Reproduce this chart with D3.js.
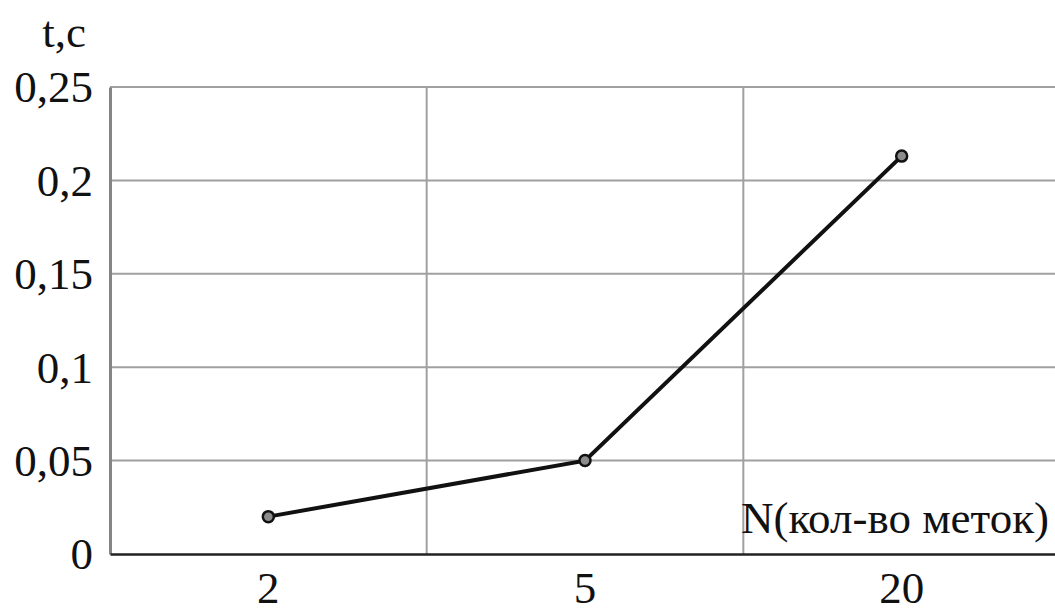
<!DOCTYPE html>
<html><head><meta charset="utf-8">
<script src="https://cdn.jsdelivr.net/npm/d3@7"></script>
<style>body{margin:0;background:#fff}svg{display:block}text{font-family:"Liberation Serif","Times New Roman",serif;fill:#111}</style>
</head><body><svg id="c" width="1055" height="613"></svg>
<script>
const categories = ["2", "5", "20"];
const values = [0.02, 0.05, 0.213];
const yTicks = [0, 0.05, 0.1, 0.15, 0.2, 0.25];
const yTickLabels = ["0", "0,05", "0,1", "0,15", "0,2", "0,25"];
const yTitle = "t,c";
const xTitle = "N(кол-во меток)";

(function () {
const svg = d3.select("#c");
const mLeft = 110, mRight = 1060, mTop = 87, mBottom = 554;
const fs = 45;
const x = d3.scaleBand().domain(categories).range([mLeft, mRight]);
const y = d3.scaleLinear().domain([0, 0.25]).range([mBottom, mTop]);

svg.append("g").selectAll("line").data(yTicks.filter(d => d > 0)).join("line")
  .attr("x1", mLeft).attr("x2", mRight).attr("y1", d => y(d)).attr("y2", d => y(d))
  .attr("stroke", "#a0a0a0").attr("stroke-width", 2);
svg.append("g").selectAll("line").data(categories.slice(1)).join("line")
  .attr("x1", d => x(d)).attr("x2", d => x(d)).attr("y1", mTop).attr("y2", mBottom)
  .attr("stroke", "#a0a0a0").attr("stroke-width", 2);

const yAxis = d3.axisLeft(y).tickValues(yTicks).tickFormat((d, i) => yTickLabels[i]).tickSize(0).tickPadding(17);
const gy = svg.append("g").attr("transform", `translate(${mLeft},0)`).call(yAxis);
gy.select(".domain").attr("stroke", "#858585").attr("stroke-width", 3);
gy.selectAll("text").attr("font-size", fs).attr("font-family", "Liberation Serif").attr("fill", "#111").attr("dy", "0.33em");

const xAxis = d3.axisBottom(x).tickSize(0).tickPadding(17);
const gx = svg.append("g").attr("transform", `translate(0,${mBottom})`).call(xAxis);
gx.select(".domain").attr("stroke", "#222").attr("stroke-width", 2.5);
gx.selectAll("text").attr("font-size", fs).attr("font-family", "Liberation Serif").attr("fill", "#111");

const line = d3.line().x((d, i) => x(categories[i]) + x.bandwidth() / 2).y(d => y(d));
svg.append("path").datum(values).attr("d", line).attr("fill", "none").attr("stroke", "#111").attr("stroke-width", 4);
svg.append("g").selectAll("circle").data(values).join("circle")
  .attr("cx", (d, i) => x(categories[i]) + x.bandwidth() / 2).attr("cy", d => y(d)).attr("r", 5.5)
  .attr("fill", "#8c8c8c").attr("stroke", "#111").attr("stroke-width", 2.5);

svg.append("text").attr("x", 64).attr("y", 47).attr("text-anchor", "middle").attr("font-size", fs).text(yTitle);
svg.append("text").attr("x", 1049).attr("y", 533).attr("text-anchor", "end").attr("font-size", fs).text(xTitle);
})();
</script></body></html>
